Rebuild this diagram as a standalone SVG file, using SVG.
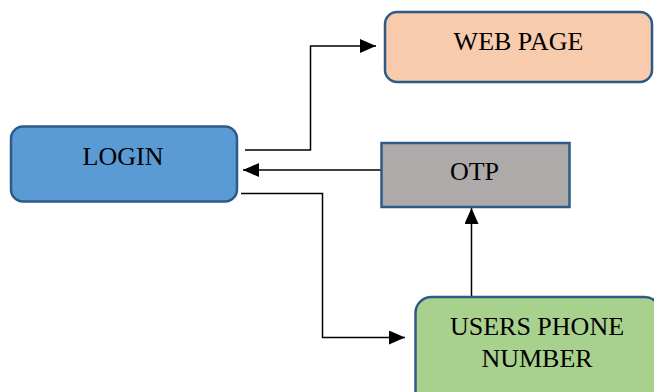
<svg xmlns="http://www.w3.org/2000/svg" width="654" height="392" viewBox="0 0 654 392">
<defs>
<style>
.box{stroke:#2E5A87;stroke-width:2.5}
.lbl{font-family:"Liberation Serif","Times New Roman",serif;font-size:26px;fill:#000;text-anchor:middle}
.con{fill:none;stroke:#000;stroke-width:1.5}
</style>
<marker id="ah" markerUnits="userSpaceOnUse" markerWidth="16" markerHeight="14" refX="16" refY="7" orient="auto">
<path d="M0,0 L16,7 L0,14 Z" fill="#000"/>
</marker>
</defs>
<rect width="654" height="392" fill="#fff"/>
<g id="connectors">
<polyline class="con" points="245,150 310.5,150 310.5,46 376,46" marker-end="url(#ah)"/>
<line class="con" x1="386" y1="170" x2="243" y2="170" marker-end="url(#ah)"/>
<polyline class="con" points="241,193.5 322.5,193.5 322.5,337.5 405,337.5" marker-end="url(#ah)"/>
<line class="con" x1="471.5" y1="304" x2="471.5" y2="208" marker-end="url(#ah)"/>
</g>
<g id="webpage">
<rect class="box" x="385" y="12" width="267" height="70" rx="12" fill="#F7CBAC"/>
<text class="lbl" x="518.5" y="50">WEB PAGE</text>
</g>
<g id="login">
<rect class="box" x="11" y="126.5" width="226" height="75" rx="12" fill="#5B9BD5"/>
<text class="lbl" x="123" y="165">LOGIN</text>
</g>
<g id="otp">
<rect class="box" x="381.5" y="143" width="188" height="64" fill="#AEAAAA"/>
<text class="lbl" x="474.5" y="179.5">OTP</text>
</g>
<g id="phone">
<rect class="box" x="415.5" y="297" width="245" height="120" rx="16" fill="#A9D18E"/>
<text class="lbl" x="537" y="335">USERS PHONE</text>
<text class="lbl" x="537" y="366.5">NUMBER</text>
</g>
</svg>
